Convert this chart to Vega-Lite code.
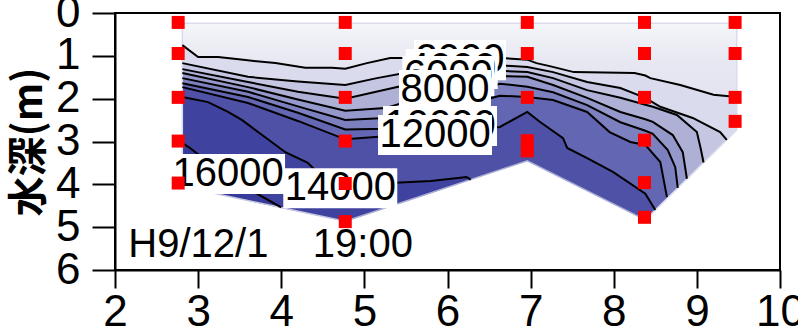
{
  "$schema": "https://vega.github.io/schema/vega-lite/v6.json",
  "width": 665,
  "height": 257,
  "autosize": {"type": "none"},
  "padding": {"left": 115, "top": 13, "right": 18, "bottom": 59},
  "background": "white",
  "config": {
    "view": {"stroke": "black", "strokeWidth": 2},
    "axis": {"domain": true, "ticks": true, "domainColor": "black", "domainWidth": 2, "tickColor": "black", "tickWidth": 2, "tickOpacity": 1, "labelColor": "black", "labelFont": "Liberation Sans", "labelFontSize": 44, "grid": false, "labelFlush": false, "labelOverlap": false},
    "axisX": {"tickSize": 18, "labelPadding": 2},
    "axisY": {"tickSize": 23, "labelPadding": 12, "titlePadding": 6, "labelBaseline": "middle", "titleFont": "Noto Sans CJK JP", "titleFontSize": 40, "titleFontWeight": "bold", "titleColor": "black"}
  },
  "datasets": {
    "base": [
      {"id": "L0", "x": 2.81, "d": 0.24, "b": 4.05},
      {"id": "L0", "x": 4.77, "d": 0.24, "b": 4.86},
      {"id": "L0", "x": 6.96, "d": 0.24, "b": 3.45},
      {"id": "L0", "x": 8.38, "d": 0.24, "b": 4.83},
      {"id": "L0", "x": 9.48, "d": 0.24, "b": 2.73}
    ],
    "contours": [
      {"id": "L1", "x": 2.81, "d": 0.75, "b": 4.05}, {"id": "L1", "x": 3.0, "d": 1.03, "b": 4.13}, {"id": "L1", "x": 3.24, "d": 1.03, "b": 4.23}, {"id": "L1", "x": 3.57, "d": 1.10, "b": 4.36}, {"id": "L1", "x": 3.93, "d": 1.17, "b": 4.51}, {"id": "L1", "x": 4.29, "d": 1.28, "b": 4.66}, {"id": "L1", "x": 4.61, "d": 1.28, "b": 4.79}, {"id": "L1", "x": 4.77, "d": 1.30, "b": 4.86}, {"id": "L1", "x": 5.03, "d": 1.17, "b": 4.69}, {"id": "L1", "x": 5.31, "d": 1.05, "b": 4.51}, {"id": "L1", "x": 6.63, "d": 1.05, "b": 3.66}, {"id": "L1", "x": 6.96, "d": 1.09, "b": 3.45}, {"id": "L1", "x": 7.07, "d": 1.17, "b": 3.56}, {"id": "L1", "x": 7.23, "d": 1.24, "b": 3.71}, {"id": "L1", "x": 7.52, "d": 1.38, "b": 3.99}, {"id": "L1", "x": 8.25, "d": 1.40, "b": 4.70}, {"id": "L1", "x": 8.38, "d": 1.46, "b": 4.83}, {"id": "L1", "x": 8.44, "d": 1.52, "b": 4.72}, {"id": "L1", "x": 8.80, "d": 1.68, "b": 4.03}, {"id": "L1", "x": 9.20, "d": 1.91, "b": 3.26}, {"id": "L1", "x": 9.48, "d": 1.96, "b": 2.73},
      {"id": "L2", "x": 2.81, "d": 1.17, "b": 4.05}, {"id": "L2", "x": 3.6, "d": 1.49, "b": 4.38}, {"id": "L2", "x": 4.2, "d": 1.60, "b": 4.63}, {"id": "L2", "x": 4.77, "d": 1.68, "b": 4.86}, {"id": "L2", "x": 5.15, "d": 1.52, "b": 4.62}, {"id": "L2", "x": 5.55, "d": 1.38, "b": 4.36}, {"id": "L2", "x": 6.0, "d": 1.28, "b": 4.07}, {"id": "L2", "x": 6.63, "d": 1.22, "b": 3.66}, {"id": "L2", "x": 6.96, "d": 1.26, "b": 3.45}, {"id": "L2", "x": 7.27, "d": 1.38, "b": 3.75}, {"id": "L2", "x": 7.68, "d": 1.61, "b": 4.15}, {"id": "L2", "x": 8.08, "d": 1.75, "b": 4.54}, {"id": "L2", "x": 8.38, "d": 1.98, "b": 4.83}, {"id": "L2", "x": 8.56, "d": 2.19, "b": 4.49}, {"id": "L2", "x": 8.95, "d": 2.45, "b": 3.74}, {"id": "L2", "x": 9.28, "d": 2.78, "b": 3.11}, {"id": "L2", "x": 9.36, "d": 2.96, "b": 2.96},
      {"id": "L3", "x": 2.81, "d": 1.31, "b": 4.05}, {"id": "L3", "x": 3.6, "d": 1.61, "b": 4.38}, {"id": "L3", "x": 4.2, "d": 1.84, "b": 4.63}, {"id": "L3", "x": 4.77, "d": 2.0, "b": 4.86}, {"id": "L3", "x": 5.5, "d": 1.68, "b": 4.39}, {"id": "L3", "x": 6.0, "d": 1.5, "b": 4.07}, {"id": "L3", "x": 6.63, "d": 1.35, "b": 3.66}, {"id": "L3", "x": 6.96, "d": 1.38, "b": 3.45}, {"id": "L3", "x": 7.27, "d": 1.52, "b": 3.75}, {"id": "L3", "x": 7.68, "d": 1.80, "b": 4.15}, {"id": "L3", "x": 8.08, "d": 1.98, "b": 4.54}, {"id": "L3", "x": 8.38, "d": 2.14, "b": 4.83}, {"id": "L3", "x": 8.47, "d": 2.19, "b": 4.66}, {"id": "L3", "x": 8.76, "d": 2.38, "b": 4.10}, {"id": "L3", "x": 9.0, "d": 2.78, "b": 3.65}, {"id": "L3", "x": 9.05, "d": 3.2, "b": 3.55}, {"id": "L3", "x": 9.08, "d": 3.49, "b": 3.49},
      {"id": "L4", "x": 2.81, "d": 1.40, "b": 4.05}, {"id": "L4", "x": 3.6, "d": 1.73, "b": 4.38}, {"id": "L4", "x": 4.2, "d": 2.02, "b": 4.63}, {"id": "L4", "x": 4.77, "d": 2.28, "b": 4.86}, {"id": "L4", "x": 5.25, "d": 2.22, "b": 4.55}, {"id": "L4", "x": 5.8, "d": 1.9, "b": 4.20}, {"id": "L4", "x": 6.3, "d": 1.6, "b": 3.87}, {"id": "L4", "x": 6.63, "d": 1.47, "b": 3.66}, {"id": "L4", "x": 6.96, "d": 1.49, "b": 3.45}, {"id": "L4", "x": 7.27, "d": 1.68, "b": 3.75}, {"id": "L4", "x": 7.68, "d": 1.98, "b": 4.15}, {"id": "L4", "x": 8.08, "d": 2.31, "b": 4.54}, {"id": "L4", "x": 8.38, "d": 2.48, "b": 4.83}, {"id": "L4", "x": 8.47, "d": 2.54, "b": 4.66}, {"id": "L4", "x": 8.71, "d": 2.85, "b": 4.20}, {"id": "L4", "x": 8.83, "d": 3.25, "b": 3.97}, {"id": "L4", "x": 8.88, "d": 3.87, "b": 3.88},
      {"id": "L5", "x": 2.81, "d": 1.52, "b": 4.05}, {"id": "L5", "x": 3.6, "d": 1.84, "b": 4.38}, {"id": "L5", "x": 4.2, "d": 2.18, "b": 4.63}, {"id": "L5", "x": 4.77, "d": 2.5, "b": 4.86}, {"id": "L5", "x": 5.25, "d": 2.45, "b": 4.55}, {"id": "L5", "x": 5.8, "d": 2.15, "b": 4.20}, {"id": "L5", "x": 6.3, "d": 1.85, "b": 3.87}, {"id": "L5", "x": 6.63, "d": 1.65, "b": 3.66}, {"id": "L5", "x": 6.96, "d": 1.72, "b": 3.45}, {"id": "L5", "x": 7.27, "d": 1.85, "b": 3.75}, {"id": "L5", "x": 7.68, "d": 2.15, "b": 4.15}, {"id": "L5", "x": 8.08, "d": 2.55, "b": 4.54}, {"id": "L5", "x": 8.38, "d": 2.75, "b": 4.83}, {"id": "L5", "x": 8.47, "d": 2.82, "b": 4.66}, {"id": "L5", "x": 8.65, "d": 3.2, "b": 4.31}, {"id": "L5", "x": 8.74, "d": 3.6, "b": 4.14}, {"id": "L5", "x": 8.77, "d": 4.08, "b": 4.09},
      {"id": "L6", "x": 2.81, "d": 1.64, "b": 4.05}, {"id": "L6", "x": 3.6, "d": 1.96, "b": 4.38}, {"id": "L6", "x": 4.2, "d": 2.33, "b": 4.63}, {"id": "L6", "x": 4.77, "d": 2.72, "b": 4.86}, {"id": "L6", "x": 5.25, "d": 2.7, "b": 4.55}, {"id": "L6", "x": 5.8, "d": 2.4, "b": 4.20}, {"id": "L6", "x": 6.3, "d": 2.1, "b": 3.87}, {"id": "L6", "x": 6.63, "d": 1.93, "b": 3.66}, {"id": "L6", "x": 6.96, "d": 1.96, "b": 3.45}, {"id": "L6", "x": 7.27, "d": 2.03, "b": 3.75}, {"id": "L6", "x": 7.68, "d": 2.31, "b": 4.15}, {"id": "L6", "x": 7.95, "d": 2.78, "b": 4.41}, {"id": "L6", "x": 8.2, "d": 3.01, "b": 4.66}, {"id": "L6", "x": 8.38, "d": 3.08, "b": 4.83}, {"id": "L6", "x": 8.56, "d": 3.48, "b": 4.49}, {"id": "L6", "x": 8.64, "d": 4.3, "b": 4.33},
      {"id": "L7", "x": 2.81, "d": 1.73, "b": 4.05}, {"id": "L7", "x": 3.6, "d": 2.10, "b": 4.38}, {"id": "L7", "x": 4.2, "d": 2.52, "b": 4.63}, {"id": "L7", "x": 4.77, "d": 2.95, "b": 4.86}, {"id": "L7", "x": 5.25, "d": 2.88, "b": 4.55}, {"id": "L7", "x": 5.8, "d": 2.8, "b": 4.20}, {"id": "L7", "x": 6.3, "d": 2.72, "b": 3.87}, {"id": "L7", "x": 6.63, "d": 2.66, "b": 3.66}, {"id": "L7", "x": 6.96, "d": 2.31, "b": 3.45}, {"id": "L7", "x": 7.11, "d": 2.54, "b": 3.60}, {"id": "L7", "x": 7.39, "d": 2.92, "b": 3.87}, {"id": "L7", "x": 7.44, "d": 3.15, "b": 3.92}, {"id": "L7", "x": 7.68, "d": 3.39, "b": 4.15}, {"id": "L7", "x": 7.99, "d": 3.71, "b": 4.45}, {"id": "L7", "x": 8.38, "d": 4.22, "b": 4.83}, {"id": "L7", "x": 8.5, "d": 4.6, "b": 4.60},
      {"id": "L8", "x": 2.81, "d": 1.96, "b": 4.05}, {"id": "L8", "x": 3.12, "d": 2.08, "b": 4.18}, {"id": "L8", "x": 3.36, "d": 2.31, "b": 4.28}, {"id": "L8", "x": 3.53, "d": 2.50, "b": 4.35}, {"id": "L8", "x": 3.77, "d": 2.85, "b": 4.45}, {"id": "L8", "x": 4.05, "d": 3.25, "b": 4.56}, {"id": "L8", "x": 4.32, "d": 3.50, "b": 4.67}, {"id": "L8", "x": 4.43, "d": 3.71, "b": 4.72}, {"id": "L8", "x": 4.77, "d": 3.88, "b": 4.86}, {"id": "L8", "x": 5.31, "d": 3.97, "b": 4.51}, {"id": "L8", "x": 5.8, "d": 3.92, "b": 4.20}, {"id": "L8", "x": 6.23, "d": 3.83, "b": 3.92}, {"id": "L8", "x": 6.28, "d": 3.89, "b": 3.89},
      {"id": "L9", "x": 2.81, "d": 3.04, "b": 4.05}, {"id": "L9", "x": 2.9, "d": 3.15, "b": 4.09}, {"id": "L9", "x": 3.2, "d": 3.6, "b": 4.21}, {"id": "L9", "x": 3.6, "d": 4.1, "b": 4.38}, {"id": "L9", "x": 4.0, "d": 4.54, "b": 4.54}
    ],
    "edges": [
      {"seg": "edge", "o": 1, "x": 2.81, "d": 4.05}, {"seg": "edge", "o": 2, "x": 2.81, "d": 0.24}, {"seg": "edge", "o": 3, "x": 9.48, "d": 0.24}, {"seg": "edge", "o": 4, "x": 9.48, "d": 2.73}, {"seg": "edge", "o": 5, "x": 8.38, "d": 4.83},
      {"seg": "left", "o": 1, "x": 2.81, "d": 4.05}, {"seg": "left", "o": 2, "x": 4.77, "d": 4.86},
      {"seg": "bed", "o": 1, "x": 4.77, "d": 4.86}, {"seg": "bed", "o": 2, "x": 6.96, "d": 3.45}, {"seg": "bed", "o": 3, "x": 8.38, "d": 4.83}
    ],
    "labels": [
      {"label": "2000", "x": 6.15, "d": 1.10},
      {"label": "4000", "x": 6.05, "d": 1.31},
      {"label": "6000", "x": 6.01, "d": 1.47},
      {"label": "8000", "x": 5.97, "d": 1.80},
      {"label": "10000", "x": 5.91, "d": 2.64},
      {"label": "12000", "x": 5.85, "d": 2.85},
      {"label": "14000", "x": 4.71, "d": 4.09},
      {"label": "16000", "x": 3.36, "d": 3.76}
    ],
    "stamp": [{"label": "H9/12/1\u00a0\u00a0\u00a0\u00a019:00", "x": 2.16, "d": 5.42}],
    "points": [
      {"x": 2.76, "d": 0.22}, {"x": 2.76, "d": 0.945}, {"x": 2.76, "d": 1.97}, {"x": 2.76, "d": 2.99}, {"x": 2.76, "d": 3.97},
      {"x": 4.77, "d": 0.22}, {"x": 4.77, "d": 0.945}, {"x": 4.77, "d": 1.97}, {"x": 4.77, "d": 2.99}, {"x": 4.77, "d": 3.98}, {"x": 4.77, "d": 4.87},
      {"x": 6.96, "d": 0.22}, {"x": 6.96, "d": 0.945}, {"x": 6.96, "d": 1.97}, {"x": 6.96, "d": 2.98}, {"x": 6.96, "d": 3.22},
      {"x": 8.37, "d": 0.22}, {"x": 8.37, "d": 0.945}, {"x": 8.37, "d": 1.97}, {"x": 8.37, "d": 2.97}, {"x": 8.37, "d": 3.96}, {"x": 8.37, "d": 4.77},
      {"x": 9.46, "d": 0.22}, {"x": 9.46, "d": 0.945}, {"x": 9.46, "d": 1.97}, {"x": 9.46, "d": 2.53}
    ]
  },
  "encoding": {
    "x": {"field": "x", "type": "quantitative", "scale": {"domain": [2, 10], "nice": false, "zero": false},
      "axis": {"values": [2, 3, 4, 5, 6, 7, 8, 9, 10], "title": null}},
    "y": {"field": "d", "type": "quantitative", "stack": null, "scale": {"domain": [0, 6], "reverse": true, "nice": false, "zero": false},
      "axis": {"values": [0, 1, 2, 3, 4, 5, 6], "title": "水深(m)"}}
  },
  "layer": [
    {"data": {"name": "base"},
     "mark": {"type": "area", "fill": {"gradient": "linear", "x1": 0, "y1": 0, "x2": 0, "y2": 1, "stops": [{"offset": 0, "color": "#f5f6f9"}, {"offset": 0.2, "color": "#e6e7f1"}, {"offset": 1, "color": "#d8d9ea"}]}},
     "encoding": {"y2": {"field": "b"}}},
    {"data": {"name": "contours"},
     "mark": {"type": "area"},
     "encoding": {"y2": {"field": "b"},
       "color": {"field": "id", "type": "nominal", "legend": null,
         "scale": {"domain": ["L1", "L2", "L3", "L4", "L5", "L6", "L7", "L8", "L9"], "range": ["#dadbec", "#c5c6e2", "#aeb0d6", "#9598ca", "#7d80bf", "#6366b2", "#4e51a6", "#3f429e", "#373a98"]}}}},
    {"data": {"name": "edges"},
     "mark": {"type": "line", "strokeWidth": 1.5},
     "encoding": {"detail": {"field": "seg"}, "order": {"field": "o"},
       "color": {"field": "seg", "type": "nominal", "legend": null, "scale": {"domain": ["edge", "left", "bed"], "range": ["#a9a9a9", "#6f71b8", "#000000"]}}}},
    {"data": {"name": "contours"},
     "mark": {"type": "line", "color": "black", "strokeWidth": 2},
     "encoding": {"detail": {"field": "id"}}},
    {"data": {"name": "labels"}, "transform": [{"filter": "datum.label === '2000'"}],
     "mark": {"type": "point", "shape": "M-1,-0.435H1V0.435H-1Z", "size": 8464, "filled": true, "color": "white", "opacity": 1}},
    {"data": {"name": "labels"}, "transform": [{"filter": "datum.label === '2000'"}],
     "mark": {"type": "text", "font": "Liberation Sans", "fontSize": 40, "color": "black", "baseline": "middle", "align": "center"},
     "encoding": {"text": {"field": "label"}}},
    {"data": {"name": "labels"}, "transform": [{"filter": "datum.label === '4000'"}],
     "mark": {"type": "point", "shape": "M-1,-0.435H1V0.435H-1Z", "size": 8464, "filled": true, "color": "white", "opacity": 1}},
    {"data": {"name": "labels"}, "transform": [{"filter": "datum.label === '4000'"}],
     "mark": {"type": "text", "font": "Liberation Sans", "fontSize": 40, "color": "black", "baseline": "middle", "align": "center"},
     "encoding": {"text": {"field": "label"}}},
    {"data": {"name": "labels"}, "transform": [{"filter": "datum.label === '6000'"}],
     "mark": {"type": "point", "shape": "M-1,-0.435H1V0.435H-1Z", "size": 8464, "filled": true, "color": "white", "opacity": 1}},
    {"data": {"name": "labels"}, "transform": [{"filter": "datum.label === '6000'"}],
     "mark": {"type": "text", "font": "Liberation Sans", "fontSize": 40, "color": "black", "baseline": "middle", "align": "center"},
     "encoding": {"text": {"field": "label"}}},
    {"data": {"name": "labels"}, "transform": [{"filter": "datum.label === '8000'"}],
     "mark": {"type": "point", "shape": "M-1,-0.435H1V0.435H-1Z", "size": 8464, "filled": true, "color": "white", "opacity": 1}},
    {"data": {"name": "labels"}, "transform": [{"filter": "datum.label === '8000'"}],
     "mark": {"type": "text", "font": "Liberation Sans", "fontSize": 40, "color": "black", "baseline": "middle", "align": "center"},
     "encoding": {"text": {"field": "label"}}},
    {"data": {"name": "labels"}, "transform": [{"filter": "datum.label === '10000'"}],
     "mark": {"type": "point", "shape": "M-1,-0.351H1V0.351H-1Z", "size": 12996, "filled": true, "color": "white", "opacity": 1}},
    {"data": {"name": "labels"}, "transform": [{"filter": "datum.label === '10000'"}],
     "mark": {"type": "text", "font": "Liberation Sans", "fontSize": 40, "color": "black", "baseline": "middle", "align": "center"},
     "encoding": {"text": {"field": "label"}}},
    {"data": {"name": "labels"}, "transform": [{"filter": "datum.label === '12000' || datum.label === '14000' || datum.label === '16000'"}],
     "mark": {"type": "point", "shape": "M-1,-0.351H1V0.351H-1Z", "size": 12996, "filled": true, "color": "white", "opacity": 1}},
    {"data": {"name": "labels"}, "transform": [{"filter": "datum.label === '12000' || datum.label === '14000' || datum.label === '16000'"}],
     "mark": {"type": "text", "font": "Liberation Sans", "fontSize": 40, "color": "black", "baseline": "middle", "align": "center"},
     "encoding": {"text": {"field": "label"}}},
    {"data": {"name": "stamp"},
     "mark": {"type": "text", "font": "Liberation Sans", "fontSize": 40, "color": "black", "baseline": "middle", "align": "left"},
     "encoding": {"text": {"field": "label"}}},
    {"data": {"name": "points"},
     "mark": {"type": "point", "shape": "square", "size": 169, "filled": true, "color": "#ff0000", "opacity": 1}}
  ]
}
